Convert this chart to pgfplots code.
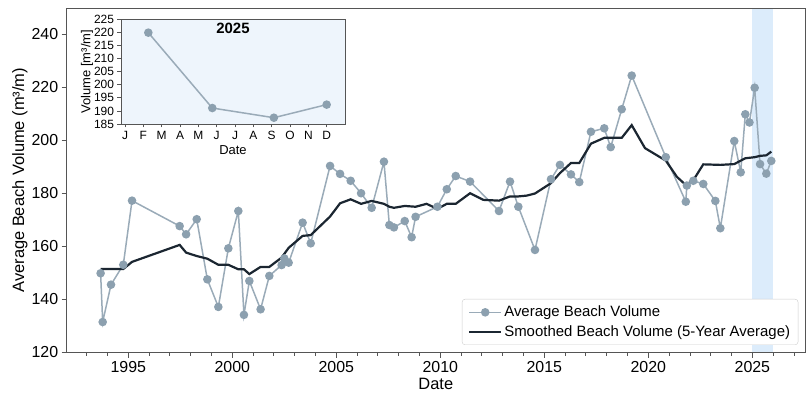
\documentclass[border=0pt]{standalone}
\usepackage{fontspec}
\setmainfont{Liberation Sans}
\usepackage{pgfplots}
\pgfplotsset{compat=1.18}
\definecolor{datacol}{HTML}{9AABB8}
\definecolor{markcol}{HTML}{8CA0AF}
\definecolor{smoothcol}{HTML}{1B2631}
\definecolor{shadecol}{HTML}{DCECFB}
\definecolor{insetbg}{HTML}{EEF5FC}
\definecolor{framecol}{HTML}{555555}
\begin{document}
\begin{tikzpicture}
\path[use as bounding box] (-66.7bp,-41.5bp) rectangle (742.3bp,352.5bp);
\begin{axis}[
  at={(0,0)}, anchor=south west,
  scale only axis, width=738.3bp, height=344.5bp,
  xmin=1992.04, xmax=2027.53, ymin=120, ymax=250,
  xtick={1995,2000,...,2025}, minor xtick={1992,...,2027},
  ytick={120,140,...,240},
  tick align=outside, xtick pos=left, ytick pos=left,
  major tick length=5bp, minor tick length=3bp,
  every tick/.style={framecol, line width=0.8bp},
  axis line style={framecol, line width=0.8bp},
  axis on top,
  tick label style={font=\fontsize{16}{16}\selectfont},
  /pgf/number format/assume math mode=true,
  /pgf/number format/1000 sep={},
  xlabel={Date}, ylabel={Average Beach Volume (m³/m)},
  label style={font=\fontsize{16.5}{16.5}\selectfont},
  xlabel style={at={(axis description cs:0.5,-0.0914)}, anchor=center},
  ylabel style={at={(axis description cs:-0.0633,0.5)}, anchor=center},
  legend style={at={(0.9909,0.0218)}, anchor=south east, draw=black!20,
    rounded corners=3bp, font=\fontsize{15}{18}\selectfont,
    inner xsep=6bp, inner ysep=5bp, row sep=3bp},
  legend cell align=left,
  legend image code/.code={\draw[mark repeat=2,mark phase=2] plot coordinates {(0bp,0bp) (16bp,0bp) (32bp,0bp)};},
]
\addplot[fill=shadecol, draw=none, forget plot] coordinates {(2025,120) (2025,250) (2026,250) (2026,120)} -- cycle;
\addplot[datacol, line width=1.5bp, mark=*, mark size=3.5bp, mark options={fill=markcol, draw=markcol}] coordinates {
(1993.67,149.9) (1993.77,131.5) (1994.17,145.6) (1994.76,153.1) (1995.18,177.3)
(1997.47,167.7) (1997.78,164.6) (1998.29,170.3) (1998.80,147.6) (1999.33,137.2)
(1999.81,159.3) (2000.29,173.4) (2000.56,134.2) (2000.82,147.0) (2001.36,136.3)
(2001.78,148.9) (2002.37,153.0) (2002.50,155.5) (2002.71,153.9) (2003.38,169.0)
(2003.77,161.2) (2004.70,190.4) (2005.18,187.4) (2005.69,184.8) (2006.19,180.1)
(2006.70,174.6) (2007.29,192.0) (2007.55,168.1) (2007.77,167.2) (2008.29,169.6)
(2008.62,163.5) (2008.81,171.2) (2009.86,175.0) (2010.31,181.6) (2010.74,186.6)
(2011.43,184.5) (2012.82,173.4) (2013.35,184.5) (2013.75,175.0) (2014.55,158.7)
(2015.32,185.4) (2015.75,190.8) (2016.28,187.2) (2016.68,184.3) (2017.24,203.3)
(2017.88,204.6) (2018.19,197.5) (2018.72,211.8) (2019.20,224.5) (2020.84,193.7)
(2021.80,176.9) (2021.85,183.0) (2022.16,184.8) (2022.64,183.6) (2023.22,177.2)
(2023.46,166.9) (2024.13,199.8) (2024.44,188.0) (2024.66,209.9) (2024.86,206.8)
(2025.11,219.9) (2025.37,191.1) (2025.67,187.5) (2025.91,192.3)
};
\addlegendentry{Average Beach Volume}
\addplot[smoothcol, line width=2.2bp, no marks] coordinates {
(1993.67,151.5) (1994.76,151.5) (1995.18,154.2) (1997.47,160.6) (1997.78,157.7)
(1998.29,156.4) (1998.80,155.4) (1999.33,153.1) (1999.81,153.1) (2000.29,151.4)
(2000.56,151.4) (2000.82,149.6) (2001.36,152.3) (2001.78,152.3) (2002.37,155.8)
(2002.71,159.5) (2003.38,164.0) (2003.77,164.3) (2004.70,171.3) (2005.18,176.3)
(2005.69,177.8) (2006.19,176.1) (2006.70,177.2) (2007.29,176.1) (2007.55,175.0)
(2007.77,174.6) (2008.29,175.3) (2008.81,175.0) (2009.34,176.1) (2009.86,174.2)
(2010.31,176.1) (2010.74,176.1) (2011.43,180.1) (2012.07,177.6) (2012.82,177.3)
(2013.35,178.9) (2013.75,178.9) (2014.15,179.2) (2014.55,180.0) (2015.32,183.9)
(2015.75,187.7) (2016.28,191.5) (2016.68,191.5) (2017.24,198.8) (2017.88,201.0)
(2018.19,201.0) (2018.72,201.0) (2019.20,205.8) (2019.84,197.1) (2020.84,192.4)
(2021.37,186.3) (2021.80,183.2) (2022.16,185.0) (2022.64,191.0) (2023.46,190.8)
(2024.13,191.1) (2024.44,192.4) (2024.66,193.3) (2025.11,193.7) (2025.37,194.2)
(2025.67,194.4) (2025.91,195.8)
};
\addlegendentry{Smoothed Beach Volume (5-Year Average)}
\end{axis}
\begin{axis}[
  at={(54.3bp,228.5bp)}, anchor=south west,
  scale only axis, width=224bp, height=104.7bp,
  xmin=-0.22, xmax=12.0, ymin=185, ymax=225,
  xtick={0,...,11}, xticklabels={J,F,M,A,M,J,J,A,S,O,N,D},
  ytick={185,190,...,225},
  axis background/.style={fill=insetbg},
  tick align=outside, xtick pos=left, ytick pos=left,
  major tick length=3.5bp,
  every tick/.style={framecol, line width=0.7bp},
  axis line style={framecol, line width=0.7bp},
  tick label style={font=\fontsize{12}{12}\selectfont},
  /pgf/number format/assume math mode=true,
  xlabel={Date}, ylabel={Volume [m³/m]},
  label style={font=\fontsize{13}{13}\selectfont},
  xlabel style={at={(axis description cs:0.5,-0.248)}, anchor=center},
  ylabel style={at={(axis description cs:-0.152,0.5)}, anchor=center},
  title={2025},
  title style={at={(axis description cs:0.5,1)}, anchor=north, yshift=-6.5bp, font=\fontsize{15}{15}\selectfont\bfseries},
]
\addplot[datacol, line width=1.5bp, mark=*, mark size=3.5bp, mark options={fill=markcol, draw=markcol}] coordinates {
(1.27,219.9) (4.76,191.1) (8.12,187.4) (11.0,192.4)
};
\end{axis}
\end{tikzpicture}
\end{document}
